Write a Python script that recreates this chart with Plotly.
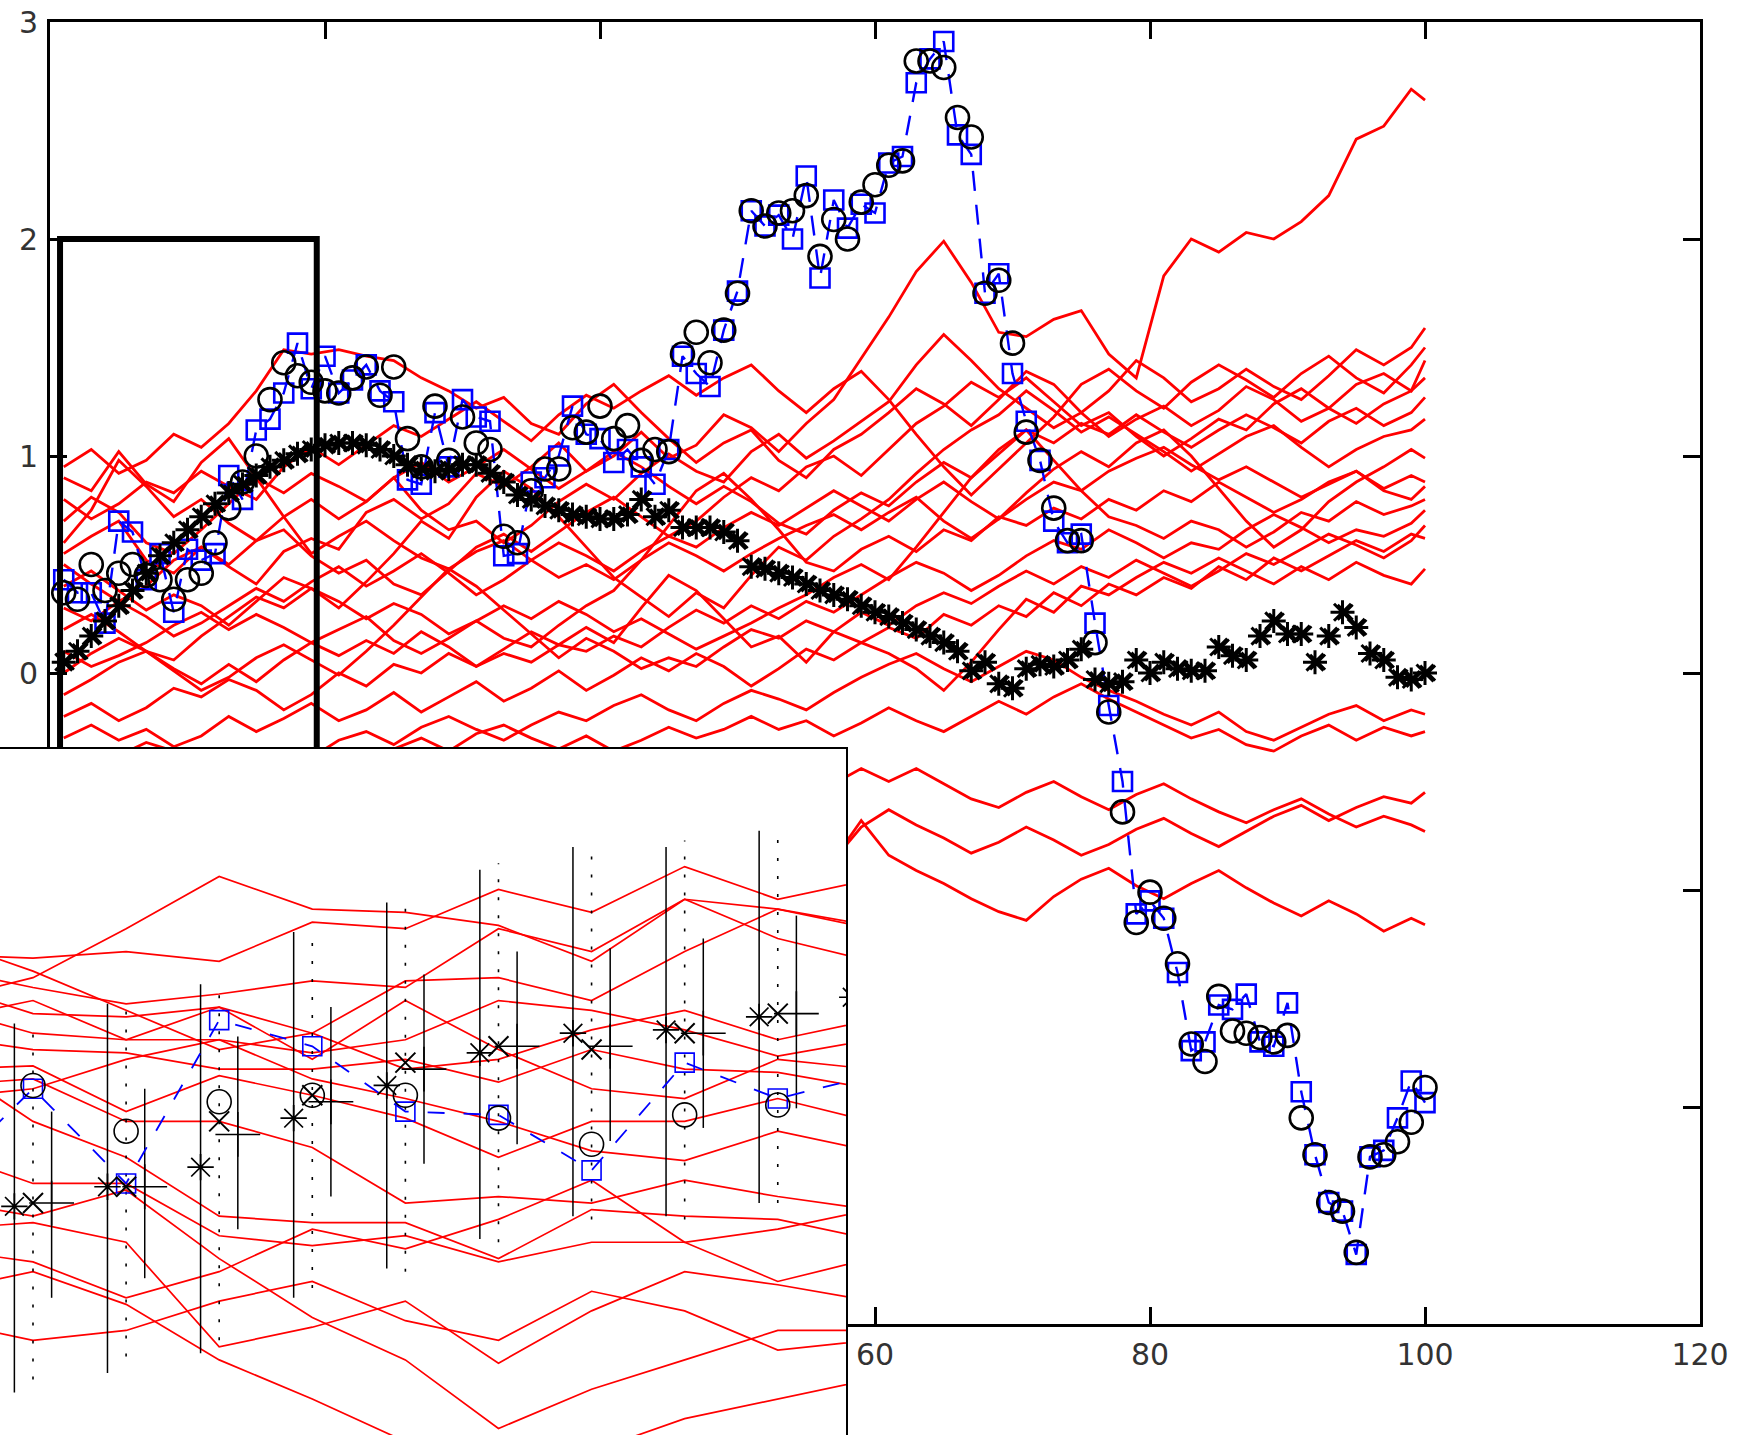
import plotly.graph_objects as go

# ---------------- main panel ----------------
t_main = list(range(1, 101))

observed = [0.43, 0.37, 0.37, 0.23, 0.70, 0.65, 0.43, 0.55, 0.28, 0.57,
            0.52, 0.55, 0.91, 0.80, 1.12, 1.17, 1.29, 1.52, 1.31, 1.46,
            1.29, 1.35, 1.42, 1.30, 1.25, 0.89, 0.87, 1.20, 0.95, 1.26,
            1.18, 1.16, 0.54, 0.55, 0.88, 0.90, 1.00, 1.23, 1.10, 1.08,
            0.97, 1.03, 0.95, 0.87, 1.03, 1.46, 1.38, 1.32, 1.58, 1.76,
            2.13, 2.06, 2.11, 2.00, 2.29, 1.82, 2.18, 2.05, 2.16, 2.12,
            2.35, 2.38, 2.72, 2.83, 2.91, 2.48, 2.39, 1.75, 1.84, 1.38,
            1.16, 0.98, 0.70, 0.60, 0.64, 0.23, -0.15, -0.50, -1.11, -1.05,
            -1.13, -1.38, -1.74, -1.70, -1.53, -1.55, -1.48, -1.70, -1.72, -1.52,
            -1.93, -2.22, -2.44, -2.48, -2.68, -2.23, -2.20, -2.05, -1.88, -1.98]

smoothed = [0.37, 0.34, 0.50, 0.38, 0.46, 0.50, 0.45, 0.43, 0.34, 0.43,
            0.46, 0.60, 0.76, 0.88, 1.00, 1.26, 1.43, 1.37, 1.34, 1.30,
            1.29, 1.36, 1.41, 1.28, 1.41, 1.08, 0.95, 1.23, 0.98, 1.18,
            1.06, 1.03, 0.63, 0.60, 0.84, 0.94, 0.94, 1.13, 1.11, 1.23,
            1.08, 1.14, 0.98, 1.03, 1.02, 1.47, 1.57, 1.43, 1.58, 1.75,
            2.13, 2.06, 2.12, 2.13, 2.20, 1.92, 2.09, 2.00, 2.17, 2.25,
            2.34, 2.36, 2.82, 2.82, 2.79, 2.56, 2.47, 1.75, 1.81, 1.52,
            1.11, 0.98, 0.76, 0.61, 0.61, 0.14, -0.18, -0.64, -1.15, -1.01,
            -1.13, -1.34, -1.71, -1.79, -1.49, -1.65, -1.66, -1.68, -1.70, -1.67,
            -2.05, -2.22, -2.44, -2.48, -2.67, -2.23, -2.22, -2.16, -2.07, -1.91]

trend = [0.05, 0.10, 0.17, 0.24, 0.31, 0.38, 0.46, 0.54, 0.60, 0.66,
         0.72, 0.78, 0.83, 0.87, 0.91, 0.95, 0.98, 1.01, 1.03, 1.05,
         1.06, 1.06, 1.05, 1.03, 1.00, 0.96, 0.94, 0.93, 0.94, 0.96,
         0.96, 0.92, 0.88, 0.82, 0.80, 0.77, 0.75, 0.73, 0.72, 0.71,
         0.71, 0.73, 0.80, 0.72, 0.75, 0.67, 0.67, 0.67, 0.65, 0.61,
         0.49, 0.48, 0.46, 0.44, 0.41, 0.38, 0.36, 0.34, 0.31, 0.28,
         0.26, 0.23, 0.20, 0.17, 0.14, 0.10, 0.01, 0.05, -0.05, -0.07,
         0.02, 0.04, 0.03, 0.06, 0.11, -0.03, -0.05, -0.04, 0.06, 0.00,
         0.05, 0.02, 0.01, 0.01, 0.12, 0.08, 0.06, 0.17, 0.24, 0.18,
         0.18, 0.05, 0.17, 0.28, 0.21, 0.09, 0.06, -0.02, -0.03, 0.00]

# sample paths, every second step
red_x = list(range(1, 100, 2)) + [100]

walk_01 = [0.55, 0.63, 0.70, 0.52, 0.46, 0.58, 0.49, 0.41, 0.56, 0.62,
           0.57, 0.74, 0.80, 0.71, 0.78, 0.92, 0.86, 0.95, 1.06, 0.93,
           1.00, 1.11, 0.99, 1.05, 1.19, 1.13, 1.02, 1.15, 1.26, 1.45,
           1.64, 1.85, 1.99, 1.80, 1.57, 1.55, 1.63, 1.67, 1.47, 1.36,
           1.83, 2.00, 1.94, 2.03, 2.00, 2.08, 2.20, 2.46, 2.52, 2.69, 2.64]
walk_02 = [0.95, 1.03, 0.92, 0.98, 1.10, 1.04, 1.15, 1.30, 1.49, 1.47,
           1.49, 1.46, 1.44, 1.36, 1.30, 1.22, 1.27, 1.15, 1.10, 1.24,
           1.33, 1.20, 1.08, 0.97, 1.06, 1.12, 0.98, 0.90, 1.03, 1.10,
           1.20, 1.31, 1.24, 1.14, 1.26, 1.39, 1.33, 1.20, 1.30, 1.44,
           1.36, 1.25, 1.31, 1.40, 1.32, 1.26, 1.37, 1.49, 1.42, 1.50, 1.59]
walk_03 = [0.80, 0.71, 0.78, 0.88, 0.83, 0.93, 0.86, 0.80, 0.95, 1.04,
           0.96, 1.05, 1.14, 1.09, 1.17, 1.25, 1.16, 1.07, 1.19, 1.28,
           1.22, 1.30, 1.37, 1.28, 1.36, 1.42, 1.30, 1.20, 1.31, 1.39,
           1.26, 1.10, 0.95, 0.82, 0.94, 1.06, 1.18, 1.33, 1.40, 1.30,
           1.22, 1.34, 1.42, 1.35, 1.27, 1.38, 1.46, 1.36, 1.29, 1.42, 1.50]
walk_04 = [0.70, 0.81, 0.74, 0.60, 0.55, 0.66, 0.78, 0.90, 0.83, 0.92,
           0.86, 0.79, 0.90, 0.75, 0.66, 0.70, 0.60, 0.68, 0.79, 0.87,
           0.80, 0.92, 1.01, 0.93, 0.88, 1.02, 1.10, 0.99, 1.07, 1.16,
           1.25, 1.42, 1.56, 1.44, 1.31, 1.22, 1.13, 1.20, 1.09, 1.17,
           1.23, 1.14, 1.21, 1.32, 1.26, 1.16, 1.22, 1.33, 1.38, 1.30, 1.44]
walk_05 = [0.60, 0.75, 0.98, 0.86, 0.72, 0.80, 0.69, 0.61, 0.66, 0.54,
           0.46, 0.52, 0.41, 0.36, 0.47, 0.58, 0.64, 0.56, 0.65, 0.74,
           0.81, 0.72, 0.63, 0.70, 0.81, 0.90, 0.84, 0.95, 1.00, 0.91,
           1.03, 1.15, 1.23, 1.34, 1.27, 1.36, 1.25, 1.14, 1.20, 1.09,
           1.00, 1.08, 1.17, 1.12, 1.24, 1.31, 1.22, 1.15, 1.24, 1.30, 1.36]
walk_06 = [0.50, 0.41, 0.33, 0.40, 0.52, 0.58, 0.50, 0.61, 0.72, 0.80,
           0.71, 0.79, 0.90, 0.97, 0.88, 0.95, 1.03, 0.94, 0.85, 0.93,
           1.02, 0.95, 0.86, 0.78, 0.86, 0.79, 0.69, 0.64, 0.75, 0.83,
           0.77, 0.88, 0.97, 0.90, 1.01, 1.12, 1.06, 1.15, 1.10, 1.19,
           1.11, 1.04, 1.12, 1.19, 1.13, 1.06, 1.16, 1.22, 1.14, 1.20, 1.27]
walk_07 = [0.40, 0.47, 0.38, 0.29, 0.36, 0.31, 0.22, 0.33, 0.44, 0.39,
           0.30, 0.42, 0.55, 0.70, 0.62, 0.81, 0.93, 0.85, 0.72, 0.58,
           0.44, 0.35, 0.26, 0.37, 0.30, 0.45, 0.58, 0.52, 0.63, 0.71,
           0.80, 0.92, 1.03, 1.12, 1.19, 1.30, 1.21, 1.11, 1.18, 1.10,
           1.02, 0.93, 1.01, 1.09, 1.14, 1.04, 0.95, 1.03, 1.09, 1.12, 1.17]
walk_08 = [0.30, 0.24, 0.33, 0.26, 0.17, 0.23, 0.31, 0.39, 0.33, 0.42,
           0.49, 0.40, 0.47, 0.55, 0.46, 0.36, 0.43, 0.52, 0.60, 0.54,
           0.47, 0.56, 0.63, 0.58, 0.67, 0.74, 0.68, 0.76, 0.84, 0.77,
           0.70, 0.80, 0.88, 0.79, 0.71, 0.83, 0.94, 1.02, 0.95, 1.06,
           1.12, 1.00, 0.85, 0.70, 0.58, 0.66, 0.79, 0.88, 0.95, 1.03, 0.99]
walk_09 = [0.20, 0.27, 0.19, 0.10, 0.06, 0.17, 0.26, 0.35, 0.30, 0.39,
           0.33, 0.25, 0.32, 0.27, 0.18, 0.24, 0.16, 0.12, 0.22, 0.31,
           0.38, 0.52, 0.68, 0.84, 0.92, 0.80, 0.66, 0.51, 0.47, 0.57,
           0.63, 0.56, 0.66, 0.61, 0.72, 0.68, 0.76, 0.71, 0.80, 0.75,
           0.84, 0.79, 0.88, 0.81, 0.74, 0.80, 0.88, 0.93, 0.85, 0.91, 0.88]
walk_10 = [0.10, 0.03, 0.08, 0.14, 0.22, 0.28, 0.20, 0.27, 0.21, 0.14,
           0.20, 0.26, 0.15, 0.09, 0.16, 0.24, 0.31, 0.25, 0.33, 0.27,
           0.19, 0.25, 0.18, 0.11, 0.17, 0.23, 0.30, 0.36, 0.44, 0.50,
           0.43, 0.58, 0.74, 0.90, 1.03, 1.12, 0.98, 0.84, 0.72, 0.68,
           0.62, 0.70, 0.66, 0.58, 0.65, 0.74, 0.70, 0.79, 0.73, 0.77, 0.80]
walk_11 = [0.00, 0.09, 0.16, 0.10, 0.02, -0.05, 0.04, -0.04, 0.06, 0.14,
           0.08, 0.15, 0.09, 0.19, 0.12, 0.03, 0.09, 0.05, 0.13, 0.10,
           0.17, 0.12, 0.21, 0.29, 0.23, 0.31, 0.25, 0.33, 0.28, 0.36,
           0.44, 0.51, 0.46, 0.38, 0.45, 0.54, 0.61, 0.57, 0.66, 0.60,
           0.53, 0.60, 0.57, 0.66, 0.73, 0.67, 0.60, 0.66, 0.63, 0.69, 0.75]
walk_12 = [-0.10, -0.03, 0.05, 0.10, 0.01, -0.08, -0.02, 0.07, 0.13, 0.06,
           -0.01, 0.10, 0.22, 0.35, 0.48, 0.40, 0.29, 0.18, 0.07, 0.16,
           0.10, 0.02, 0.07, 0.03, 0.12, 0.20, 0.16, 0.24, 0.19, 0.28,
           0.22, 0.31, 0.37, 0.32, 0.40, 0.47, 0.41, 0.49, 0.44, 0.52,
           0.46, 0.40, 0.47, 0.55, 0.50, 0.57, 0.64, 0.59, 0.53, 0.61, 0.68]
walk_13 = [-0.20, -0.14, -0.22, -0.16, -0.07, -0.11, -0.03, -0.08, -0.17, -0.10,
           0.00, -0.06, 0.04, 0.00, 0.09, 0.03, 0.11, 0.19, 0.13, 0.21,
           0.14, 0.30, 0.45, 0.38, 0.25, 0.12, 0.17, 0.05, 0.19, 0.14,
           0.21, 0.16, 0.27, 0.22, 0.31, 0.26, 0.37, 0.31, 0.41, 0.36,
           0.44, 0.39, 0.49, 0.43, 0.53, 0.47, 0.54, 0.61, 0.56, 0.64, 0.62]
walk_14 = [-0.30, -0.24, -0.31, -0.26, -0.34, -0.29, -0.20, -0.27, -0.21, -0.14,
           -0.22, -0.17, -0.09, -0.18, -0.11, -0.04, -0.13, -0.07, 0.01, -0.08,
           -0.01, 0.07, 0.01, 0.09, 0.03, -0.06, 0.02, 0.11, 0.06, 0.14,
           0.09, 0.02, -0.08, 0.05, 0.20, 0.34, 0.28, 0.40, 0.36, 0.44,
           0.51, 0.46, 0.53, 0.47, 0.41, 0.49, 0.43, 0.51, 0.45, 0.41, 0.48]
walk_15 = [-0.40, -0.45, -0.38, -0.32, -0.36, -0.44, -0.49, -0.41, -0.35, -0.39,
           -0.31, -0.27, -0.33, -0.25, -0.20, -0.26, -0.31, -0.24, -0.18, -0.22,
           -0.15, -0.10, -0.17, -0.22, -0.14, -0.08, -0.12, -0.17, -0.09, -0.02,
           0.04, 0.09, 0.02, -0.04, 0.03, 0.10, 0.06, -0.02, -0.08, -0.13,
           -0.19, -0.24, -0.18, -0.27, -0.31, -0.25, -0.19, -0.15, -0.22, -0.17, -0.19]
walk_16 = [-0.55, -0.60, -0.53, -0.47, -0.51, -0.44, -0.40, -0.46, -0.50, -0.43,
           -0.37, -0.42, -0.35, -0.30, -0.36, -0.28, -0.24, -0.30, -0.35, -0.29,
           -0.36, -0.31, -0.25, -0.30, -0.26, -0.20, -0.26, -0.22, -0.29, -0.23,
           -0.16, -0.22, -0.27, -0.20, -0.13, -0.19, -0.11, -0.05, -0.12, -0.18,
           -0.24, -0.30, -0.26, -0.33, -0.36, -0.29, -0.24, -0.31, -0.25, -0.29, -0.27]
walk_17 = [-0.70, -0.76, -0.68, -0.73, -0.65, -0.71, -0.63, -0.69, -0.61, -0.66,
           -0.58, -0.64, -0.56, -0.61, -0.53, -0.59, -0.51, -0.57, -0.49, -0.55,
           -0.46, -0.52, -0.44, -0.49, -0.41, -0.47, -0.54, -0.46, -0.51, -0.44,
           -0.50, -0.44, -0.51, -0.58, -0.62, -0.55, -0.50, -0.57, -0.63, -0.56,
           -0.51, -0.58, -0.64, -0.69, -0.63, -0.58, -0.65, -0.71, -0.66, -0.70, -0.73]
walk_18 = [-0.85, -0.97, -0.76, -0.92, -0.99, -0.81, -0.96, -0.78, -0.94, -0.76,
           -0.92, -0.74, -0.89, -0.96, -0.78, -0.94, -0.76, -0.92, -0.74, -0.89,
           -0.71, -0.86, -0.68, -0.84, -0.66, -0.82, -0.64, -0.79, -0.86, -0.68,
           -0.84, -0.91, -0.97, -1.04, -1.10, -1.14, -1.03, -0.95, -0.90, -0.98,
           -1.04, -0.97, -0.91, -0.99, -1.06, -1.12, -1.05, -1.11, -1.19, -1.13, -1.16]
walk_19 = [0.90, 0.84, 1.02, 0.87, 0.79, 0.97, 1.08, 0.90, 0.72, 0.55,
           0.63, 0.70, 0.61, 0.53, 0.48, 0.56, 0.61, 0.52, 0.44, 0.50,
           0.43, 0.52, 0.60, 0.54, 0.47, 0.55, 0.62, 0.68, 0.73, 0.66,
           0.74, 0.81, 0.70, 0.62, 0.71, 0.80, 0.88, 0.84, 0.93, 0.99,
           1.04, 0.96, 0.89, 0.95, 0.88, 0.81, 0.87, 0.93, 0.84, 0.80, 0.86]
walk_20 = [-1.00, -0.88, -1.06, -0.91, -1.09, -0.94, -1.12, -0.96, -0.88, -1.06,
           -0.91, -0.84, -1.02, -0.86, -0.78, -0.96, -0.81, -0.99, -0.84, -0.76,
           -0.94, -0.78, -0.71, -0.89, -0.74, -0.92, -0.76, -0.68, -0.86, -0.71,
           -0.63, -0.70, -0.76, -0.83, -0.78, -0.71, -0.77, -0.84, -0.79, -0.72,
           -0.67, -0.74, -0.80, -0.73, -0.66, -0.61, -0.68, -0.62, -0.57, -0.60, -0.55]

walks = [walk_01, walk_02, walk_03, walk_04, walk_05, walk_06, walk_07,
         walk_08, walk_09, walk_10, walk_11, walk_12, walk_13, walk_14,
         walk_15, walk_16, walk_17, walk_18, walk_19, walk_20]

# region that the inset enlarges
box_x = [0.73, 19.4]
box_y = [-0.6, 2.0]

# tick labels (those under the inset are left blank)
x_tickvals = [0, 20, 40, 60, 80, 100, 120]
x_ticktext = ["", "", "", "60", "80", "100", "120"]
y_tickvals = [-3, -2, -1, 0, 1, 2, 3]
y_ticktext = ["", "", "", "0", "1", "2", "3"]

# ---------------- inset ----------------
inset_t = list(range(1, 11))
inset_sq_t = list(range(0, 11))
inset_red_t = list(range(0, 11))

ins_ast = [-0.30, -0.24, -0.18, -0.03, 0.07, 0.17, 0.23, 0.24, 0.28, 0.34]
ins_ast_lo = [-0.87, -0.81, -0.75, -0.58, -0.49, -0.40, -0.33, -0.33, -0.29, -0.23]
ins_ast_hi = [0.26, 0.32, 0.38, 0.54, 0.63, 0.73, 0.80, 0.80, 0.85, 0.90]

ins_x = [-0.29, -0.24, -0.04, 0.04, 0.14, 0.19, 0.18, 0.23, 0.29, 0.33]
ins_x_lo = [-0.83, -0.76, -0.71, -0.55, -0.50, -0.41, -0.34, -0.34, -0.29, -0.25]
ins_x_hi = [0.26, 0.33, 0.39, 0.55, 0.64, 0.75, 0.81, 0.82, 0.86, 0.91]

ins_plus = [-0.29, -0.24, -0.08, 0.02, 0.12, 0.19, 0.19, 0.23, 0.29, 0.33]
ins_plus_lo = [-0.58, -0.52, -0.37, -0.27, -0.17, -0.11, -0.10, -0.06, 0.00, 0.04]
ins_plus_hi = [-0.01, 0.06, 0.22, 0.31, 0.41, 0.48, 0.49, 0.52, 0.59, 0.63]

ins_circle = [0.07, -0.07, 0.02, 0.04, 0.04, -0.03, -0.11, -0.02, 0.01, 0.06]
ins_square = [-0.22, 0.06, -0.23, 0.27, 0.19, -0.01, -0.02, -0.19, 0.14, 0.03, 0.10]

inset_walk_01 = [0.33, 0.40, 0.55, 0.71, 0.61, 0.60, 0.56, 0.45, 0.64, 0.61, 0.56]
inset_walk_02 = [0.47, 0.46, 0.48, 0.45, 0.57, 0.55, 0.67, 0.60, 0.74, 0.64, 0.70]
inset_walk_03 = [0.43, 0.37, 0.32, 0.35, 0.39, 0.37, 0.55, 0.48, 0.64, 0.52, 0.45]
inset_walk_04 = [0.38, 0.29, 0.28, 0.31, 0.23, 0.39, 0.40, 0.33, 0.48, 0.61, 0.55]
inset_walk_05 = [0.31, 0.23, 0.21, 0.21, 0.17, 0.21, 0.33, 0.30, 0.24, 0.16, 0.21]
inset_walk_06 = [0.22, 0.18, 0.17, 0.12, 0.12, 0.15, 0.08, 0.18, 0.12, 0.11, 0.06]
inset_walk_07 = [0.12, 0.13, -0.01, 0.10, 0.04, -0.03, -0.15, -0.04, -0.04, 0.03, -0.04]
inset_walk_08 = [0.07, 0.09, -0.04, -0.04, -0.12, -0.29, -0.27, -0.29, -0.22, -0.27, -0.31]
inset_walk_09 = [0.15, -0.04, -0.15, -0.33, -0.35, -0.35, -0.46, -0.31, -0.33, -0.34, -0.40]
inset_walk_10 = [-0.13, -0.23, -0.23, -0.39, -0.42, -0.39, -0.47, -0.41, -0.41, -0.53, -0.46]
inset_walk_11 = [-0.28, -0.33, -0.25, -0.46, -0.64, -0.77, -0.98, -0.86, -0.77, -0.68, -0.68]
inset_walk_12 = [-0.37, -0.35, -0.41, -0.73, -0.67, -0.59, -0.78, -0.62, -0.50, -0.54, -0.59]
inset_walk_13 = [-0.43, -0.47, -0.58, -0.50, -0.37, -0.43, -0.34, -0.22, -0.41, -0.37, -0.31]
inset_walk_14 = [-0.56, -0.50, -0.60, -0.77, -0.89, -1.02, -1.11, -1.05, -0.95, -0.89, -0.83]
inset_walk_15 = [0.27, 0.33, 0.21, 0.31, 0.15, 0.33, 0.18, 0.06, 0.03, 0.15, 0.12]
inset_walk_16 = [0.52, 0.42, 0.30, 0.18, 0.23, 0.12, 0.15, 0.24, 0.30, 0.21, 0.27]
inset_walk_17 = [0.03, 0.06, 0.15, 0.21, 0.09, 0.03, -0.04, -0.13, -0.16, -0.07, -0.13]
inset_walk_18 = [-0.65, -0.71, -0.68, -0.59, -0.53, -0.65, -0.71, -0.56, -0.62, -0.74, -0.71]

inset_walks = [inset_walk_01, inset_walk_02, inset_walk_03, inset_walk_04,
               inset_walk_05, inset_walk_06, inset_walk_07, inset_walk_08,
               inset_walk_09, inset_walk_10, inset_walk_11, inset_walk_12,
               inset_walk_13, inset_walk_14, inset_walk_15, inset_walk_16,
               inset_walk_17, inset_walk_18]

RED = "#ff0000"
BLUE = "#0000ff"
BLACK = "#000000"


def bar_segments(ts, offset, lo, hi):
    xs, ys = [], []
    for t, a, b in zip(ts, lo, hi):
        xs += [t + offset, t + offset, None]
        ys += [a, b, None]
    return xs, ys


fig = go.Figure()

# main panel: sample paths
for w in walks:
    fig.add_trace(go.Scatter(x=red_x, y=w, mode="lines",
                             line=dict(color=RED, width=2.8),
                             xaxis="x", yaxis="y", hoverinfo="skip"))

# observations joined by a dashed line
fig.add_trace(go.Scatter(x=t_main, y=observed, mode="lines+markers",
                         line=dict(color=BLUE, width=2.4, dash="20px,14px"),
                         marker=dict(symbol="square-open", size=19, color=BLUE,
                                     line=dict(width=2.6, color=BLUE)),
                         xaxis="x", yaxis="y"))
# filtered estimates
fig.add_trace(go.Scatter(x=t_main, y=smoothed, mode="markers",
                         marker=dict(symbol="circle-open", size=23, color=BLACK,
                                     line=dict(width=2.6, color=BLACK)),
                         xaxis="x", yaxis="y"))
# trend
fig.add_trace(go.Scatter(x=t_main, y=trend, mode="markers",
                         marker=dict(symbol="asterisk-open", size=20, color=BLACK,
                                     line=dict(width=3, color=BLACK)),
                         xaxis="x", yaxis="y"))
fig.add_trace(go.Scatter(x=[t + 0.2 for t in t_main], y=trend, mode="markers",
                         marker=dict(symbol="x-thin-open", size=15, color=BLACK,
                                     line=dict(width=2.6, color=BLACK)),
                         xaxis="x", yaxis="y"))
# outline of the enlarged region
fig.add_trace(go.Scatter(x=[box_x[0], box_x[1], box_x[1], box_x[0], box_x[0]],
                         y=[box_y[0], box_y[0], box_y[1], box_y[1], box_y[0]],
                         mode="lines", line=dict(color=BLACK, width=6),
                         xaxis="x", yaxis="y"))

# inset: enlarged start of the series
for w in inset_walks:
    fig.add_trace(go.Scatter(x=inset_red_t, y=w, mode="lines",
                             line=dict(color=RED, width=1.7),
                             xaxis="x2", yaxis="y2", hoverinfo="skip"))

ex, ey = bar_segments(inset_t, 0.0, ins_x_lo, ins_x_hi)
fig.add_trace(go.Scatter(x=ex, y=ey, mode="lines",
                         line=dict(color=BLACK, width=1.6, dash="3px,15px"),
                         xaxis="x2", yaxis="y2"))
ax_, ay_ = bar_segments(inset_t, -0.2, ins_ast_lo, ins_ast_hi)
fig.add_trace(go.Scatter(x=ax_, y=ay_, mode="lines",
                         line=dict(color=BLACK, width=1.5),
                         xaxis="x2", yaxis="y2"))
px_, py_ = bar_segments(inset_t, 0.2, ins_plus_lo, ins_plus_hi)
fig.add_trace(go.Scatter(x=px_, y=py_, mode="lines",
                         line=dict(color=BLACK, width=1.5),
                         xaxis="x2", yaxis="y2"))

fig.add_trace(go.Scatter(x=inset_sq_t, y=ins_square, mode="lines+markers",
                         line=dict(color=BLUE, width=1.8, dash="17px,19px"),
                         marker=dict(symbol="square-open", size=19, color=BLUE,
                                     line=dict(width=1.6, color=BLUE)),
                         xaxis="x2", yaxis="y2"))
fig.add_trace(go.Scatter(x=inset_t, y=ins_circle, mode="markers",
                         marker=dict(symbol="circle-open", size=24, color=BLACK,
                                     line=dict(width=1.6, color=BLACK)),
                         xaxis="x2", yaxis="y2"))
fig.add_trace(go.Scatter(x=[t - 0.2 for t in inset_t], y=ins_ast, mode="markers",
                         marker=dict(symbol="asterisk-open", size=22, color=BLACK,
                                     line=dict(width=1.7, color=BLACK)),
                         xaxis="x2", yaxis="y2"))
fig.add_trace(go.Scatter(x=inset_t, y=ins_x, mode="markers",
                         marker=dict(symbol="x-thin-open", size=20, color=BLACK,
                                     line=dict(width=2.0, color=BLACK)),
                         xaxis="x2", yaxis="y2"))
fig.add_trace(go.Scatter(x=[t + 0.2 for t in inset_t], y=ins_plus, mode="markers",
                         marker=dict(symbol="cross-thin-open", size=32, color=BLACK,
                                     line=dict(width=1.6, color=BLACK)),
                         xaxis="x2", yaxis="y2"))

W, H = 1738, 1435
tick_font = dict(family="DejaVu Sans, Liberation Sans, sans-serif", size=30, color="#333333")

fig.update_layout(
    width=W, height=H,
    autosize=False,
    margin=dict(l=0, r=0, t=0, b=0, pad=0, autoexpand=False),
    paper_bgcolor="white", plot_bgcolor="white",
    showlegend=False,
    xaxis=dict(domain=[50 / W, 1700 / W], range=[0, 120],
               tickvals=x_tickvals, ticktext=x_ticktext,
               ticks="inside", ticklen=17, tickwidth=3, tickcolor=BLACK,
               showline=True, linewidth=3, linecolor=BLACK, mirror="ticks",
               showgrid=False, zeroline=False, tickfont=tick_font,
               ticklabelstandoff=2, automargin=False, anchor="y"),
    yaxis=dict(domain=[111 / H, 1413 / H], range=[-3, 3],
               tickvals=y_tickvals, ticktext=y_ticktext,
               ticks="inside", ticklen=17, tickwidth=3, tickcolor=BLACK,
               showline=True, linewidth=3, linecolor=BLACK, mirror="ticks",
               showgrid=False, zeroline=False, tickfont=tick_font,
               ticklabelstandoff=3, automargin=False, anchor="x"),
    xaxis2=dict(domain=[0, 846 / W], range=[0.6455, 9.733], anchor="y2",
                side="top", showline=True, linewidth=1.5, linecolor=BLACK,
                showticklabels=False, ticks="", showgrid=False, zeroline=False,
                automargin=False),
    yaxis2=dict(domain=[0, 686 / H], range=[-1.0, 1.1], anchor="x2",
                side="right", showline=True, linewidth=1.5, linecolor=BLACK,
                showticklabels=False, ticks="", showgrid=False, zeroline=False,
                automargin=False),
)

fig.write_html("out.html")
